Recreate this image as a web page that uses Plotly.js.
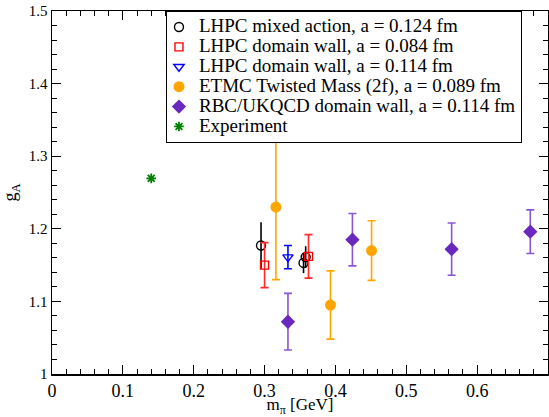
<!DOCTYPE html>
<html>
<head>
<meta charset="utf-8">
<script src="https://cdn.plot.ly/plotly-3.0.1.min.js"></script>
<style>html,body{margin:0;padding:0;background:#fff;}#chart{width:549px;height:417px;}</style>
</head>
<body>
<div id="chart"></div>
<script>
// ---- data ----
const seriesNames = [
  "LHPC mixed action, a = 0.124 fm",
  "LHPC domain wall, a = 0.084 fm",
  "LHPC domain wall, a = 0.114 fm",
  "ETMC Twisted Mass (2f), a = 0.089 fm",
  "RBC/UKQCD domain wall, a = 0.114 fm",
  "Experiment"
];
const mixedX = [0.295, 0.355, 0.358];
const mixedY = [1.177, 1.153, 1.161];
const mixedErr = [0.032, 0.014, 0.015];

const dw084X = [0.300, 0.362];
const dw084Y = [1.150, 1.162];
const dw084Err = [0.031, 0.030];

const dw114X = [0.333];
const dw114Y = [1.161];
const dw114Err = [0.016];

const etmcX = [0.316, 0.393, 0.451];
const etmcY = [1.230, 1.095, 1.170];
const etmcErr = [0.100, 0.047, 0.041];

const rbcX = [0.333, 0.424, 0.564, 0.675];
const rbcY = [1.072, 1.185, 1.172, 1.196];
const rbcErr = [0.039, 0.036, 0.036, 0.030];

const expX = [0.140];
const expY = [1.2695];

const xTicks = [0, 0.1, 0.2, 0.3, 0.4, 0.5, 0.6];
const xTickText = ["0", "0.1", "0.2", "0.3", "0.4", "0.5", "0.6"];
const yTicks = [1, 1.1, 1.2, 1.3, 1.4, 1.5];
const yTickText = ["1", "1.1", "1.2", "1.3", "1.4", "1.5"];

// ---- figure ----
const FONT = "Liberation Serif";
const lbl = s => '<span style="font-size:19px">' + s + '</span>';

function errTrace(name, x, y, err, color, errColor, symbol, size, capw, lw) {
  return {
    type: "scatter", mode: "markers", name: lbl(name), x: x, y: y,
    error_y: {type: "data", array: err, visible: true, color: errColor, thickness: 1.6, width: capw},
    marker: {symbol: symbol, size: size, color: color, line: {color: color, width: lw}}
  };
}

const traces = [
  errTrace(seriesNames[0], mixedX, mixedY, mixedErr, "#000000", "#000000", "circle-open", 9, 0, 1.4),
  errTrace(seriesNames[1], dw084X, dw084Y, dw084Err, "#ff0000", "#ff2a2a", "square-open", 8, 4, 1.4),
  errTrace(seriesNames[2], dw114X, dw114Y, dw114Err, "#0000ff", "#0000ff", "triangle-down-open", 9, 4, 1.4),
  errTrace(seriesNames[3], etmcX, etmcY, etmcErr, "#ffa500", "#ffa500", "circle", 11, 4, 0),
  errTrace(seriesNames[4], rbcX, rbcY, rbcErr, "#6a28be", "#8a55d4", "diamond", 11, 4, 0),
  {
    type: "scatter", mode: "markers", name: lbl(seriesNames[5]), x: expX, y: expY,
    marker: {symbol: "asterisk-open", size: 8, color: "#008000", line: {color: "#008000", width: 1.8}}
  }
];

const axisCommon = {
  showline: true, linecolor: "#000", linewidth: 1.5, mirror: "allticks",
  ticks: "inside", ticklen: 9, tickwidth: 1.2, tickcolor: "#000",
  showgrid: false, zeroline: false,
  tickmode: "array"
};

const layout = {
  width: 549, height: 417,
  margin: {l: 52, r: 1, t: 11, b: 43, pad: 0},
  paper_bgcolor: "#fff", plot_bgcolor: "#fff",
  font: {family: FONT, color: "#000"},
  showlegend: true,
  legend: {
    x: 0.2298, y: 1, xanchor: "left", yanchor: "top",
    bgcolor: "#fff", bordercolor: "#000", borderwidth: 1,
    font: {family: FONT, size: 13, color: "#000"},
    indentation: -8, tracegroupgap: 0
  },
  xaxis: Object.assign({}, axisCommon, {
    range: [0, 0.7], tickvals: xTicks, ticktext: xTickText,
    tickfont: {family: FONT, size: 18, color: "#000"},
    minor: {dtick: 0.02, ticks: "inside", ticklen: 5, tickwidth: 1, tickcolor: "#000", showgrid: false},
    title: {text: "m<sub>π</sub> [GeV]", font: {family: FONT, size: 17}, standoff: 3}
  }),
  yaxis: Object.assign({}, axisCommon, {
    range: [1, 1.5], tickvals: yTicks, ticktext: yTickText,
    tickfont: {family: FONT, size: 15, color: "#000"},
    minor: {dtick: 0.02, ticks: "inside", ticklen: 5, tickwidth: 1, tickcolor: "#000", showgrid: false},
    title: {text: "g<sub>A</sub>", font: {family: FONT, size: 18}, standoff: 8}
  })
};

Plotly.newPlot("chart", traces, layout, {displayModeBar: false, staticPlot: true});
</script>
</body>
</html>
